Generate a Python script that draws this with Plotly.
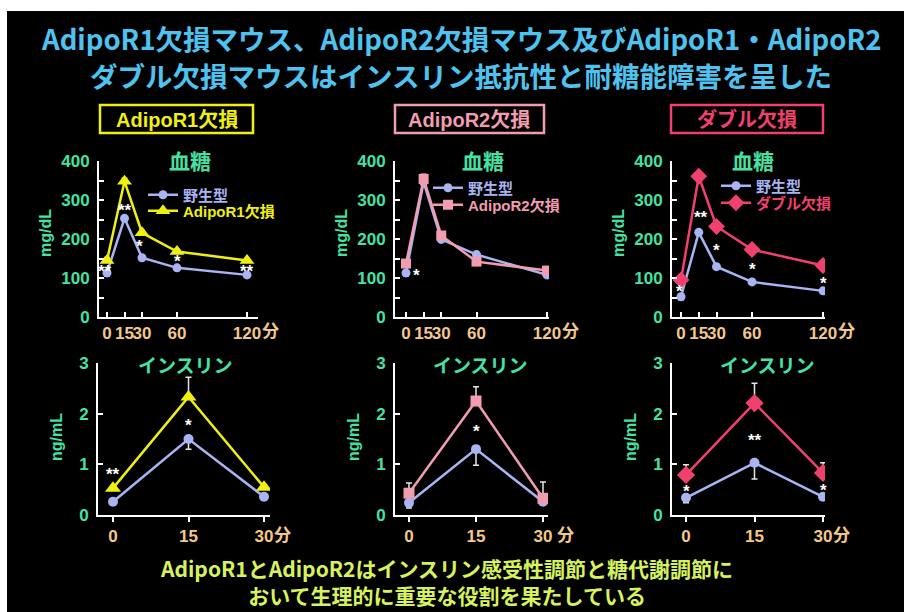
import plotly.graph_objects as go

W, H = 904, 612

# ---------------- data ----------------
times_glucose = [0, 15, 30, 60, 120]
times_insulin = [0, 15, 30]
glucose_tick_text = ["0", "15", "30", "60", "120"]
insulin_tick_text = ["0", "15", "30"]

# blood glucose (mg/dL)
glu_wt_r1 = [113, 253, 152, 126, 108]
glu_ko_r1 = [145, 348, 216, 168, 145]
glu_wt_r2 = [113, 346, 199, 160, 108]
glu_ko_r2 = [137, 354, 209, 142, 119]
glu_wt_dko = [52, 217, 129, 90, 67]
glu_ko_dko = [95, 361, 232, 173, 132]

# glucose error bars (KO upward, WT downward)
glu_err_wt_r1 = [8, 6, 6, 5, 4]
glu_err_ko_r1 = [8, 8, 6, 6, 5]
glu_err_wt_r2 = [8, 6, 5, 5, 5]
glu_err_ko_r2 = [6, 12, 6, 5, 8]
glu_err_wt_dko = [8, 6, 5, 4, 4]
glu_err_ko_dko = [12, 6, 6, 10, 10]

# insulin (ng/mL)
ins_wt_r1 = [0.26, 1.50, 0.36]
ins_ko_r1 = [0.53, 2.33, 0.55]
ins_wt_r2 = [0.24, 1.30, 0.26]
ins_ko_r2 = [0.43, 2.25, 0.33]
ins_wt_dko = [0.34, 1.03, 0.36]
ins_ko_dko = [0.79, 2.21, 0.83]

ins_err_wt_r1 = [0.03, 0.20, 0.03]
ins_err_ko_r1 = [0.03, 0.39, 0.03]
ins_err_wt_r2 = [0.10, 0.32, 0.05]
ins_err_ko_r2 = [0.20, 0.28, 0.32]
ins_err_wt_dko = [0.10, 0.32, 0.05]
ins_err_ko_dko = [0.20, 0.39, 0.20]

# significance marks: (panel index, x value, y value, text)
sig_marks = [
    (1, -2, 128, "**"), (1, 15, 284, "**"), (1, 28, 191, "*"), (1, 60, 152, "*"), (1, 120, 126, "**"),
    (2, 9, 116, "*"),
    (3, -1, 75, "*"), (3, 17, 266, "**"), (3, 30, 181, "*"), (3, 60, 132, "*"), (3, 120, 95, "*"),
    (4, 0, 0.87, "**"), (4, 15, 1.85, "*"),
    (5, 15, 1.73, "*"),
    (6, 0, 0.55, "*"), (6, 15, 1.54, "**"), (6, 30, 0.57, "*"),
]

wt_name = "野生型"
ko_names = ["AdipoR1欠損", "AdipoR2欠損", "ダブル欠損"]
box_labels = ["AdipoR1欠損", "AdipoR2欠損", "ダブル欠損"]
title_lines = ["AdipoR1欠損マウス、AdipoR2欠損マウス及びAdipoR1・AdipoR2",
               "ダブル欠損マウスはインスリン抵抗性と耐糖能障害を呈した"]
footer_lines = ["AdipoR1とAdipoR2はインスリン感受性調節と糖代謝調節に",
                "おいて生理的に重要な役割を果たしている"]

# ---------------- style ----------------
FONT = "Liberation Sans, Noto Sans CJK JP, sans-serif"
CJK = "Noto Sans CJK JP, Liberation Sans, sans-serif"
C_WT = "#a9b4f2"
C_KO = ["#f0f010", "#f29cb0", "#f0406e"]
SYM_KO = ["triangle-up", "square", "diamond"]
SIZE_KO = [13, 10, 13]
C_GREEN = "#45e2a4"
C_TAN = "#f2c88e"
C_TITLE = "#4fc3ef"
C_FOOT = "#d7f25c"
C_ERR = "#e6e6e6"


def px_x(p):
    return p / W


def px_y(p):
    return 1 - p / H


def axis_range(d0, d1, p_a, v_a, p_b, v_b):
    k = (v_b - v_a) / (p_b - p_a)
    return [v_a + (d0 - p_a) * k, v_a + (d1 - p_a) * k]


# panel geometry in pixels: x-domain, (px,value) pairs, y-domain, shift of the "分" unit
panels = [
    dict(xd=(99, 258), a=(107, 0), b=(247, 120), yd=(161, 317), yr=[0, 400], fen=23),
    dict(xd=(395, 549), a=(406, 0), b=(547, 120), yd=(161, 317), yr=[0, 400], fen=23),
    dict(xd=(672, 825), a=(681, 0), b=(823, 120), yd=(161, 317), yr=[0, 400], fen=23),
    dict(xd=(98, 270), a=(113, 0), b=(264, 30), yd=(363, 515), yr=[0, 3], fen=18),
    dict(xd=(395, 548), a=(409, 0), b=(543, 30), yd=(363, 515), yr=[0, 3], fen=22),
    dict(xd=(672, 825), a=(686, 0), b=(823, 30), yd=(363, 515), yr=[0, 3], fen=18),
]

# legend placement (left px, centre y px) for WT and KO entries of each panel
legend_wt_pos = [(143, 195), (428, 188), (716, 186)]
legend_ko_pos = [(143, 211), (428, 205), (716, 203)]

fig = go.Figure()

glu_wt = [glu_wt_r1, glu_wt_r2, glu_wt_dko]
glu_ko = [glu_ko_r1, glu_ko_r2, glu_ko_dko]
glu_ewt = [glu_err_wt_r1, glu_err_wt_r2, glu_err_wt_dko]
glu_eko = [glu_err_ko_r1, glu_err_ko_r2, glu_err_ko_dko]
ins_wt = [ins_wt_r1, ins_wt_r2, ins_wt_dko]
ins_ko = [ins_ko_r1, ins_ko_r2, ins_ko_dko]
ins_ewt = [ins_err_wt_r1, ins_err_wt_r2, ins_err_wt_dko]
ins_eko = [ins_err_ko_r1, ins_err_ko_r2, ins_err_ko_dko]


def lid(k):
    return "legend" if k == 1 else f"legend{k}"


for i in range(3):
    # glucose panel i+1
    xa, ya = ("x", "y") if i == 0 else (f"x{i+1}", f"y{i+1}")
    fig.add_trace(go.Scatter(
        x=times_glucose, y=glu_wt[i], xaxis=xa, yaxis=ya, mode="lines+markers",
        name=f"<span style='color:{C_WT}'>{wt_name}</span>", legend=lid(2 * i + 1),
        line=dict(color=C_WT, width=2.5), marker=dict(symbol="circle", size=9, color=C_WT),
        error_y=dict(type="data", symmetric=False, array=[0] * 5, arrayminus=glu_ewt[i],
                     color=C_ERR, thickness=1.3, width=3),
    ))
    fig.add_trace(go.Scatter(
        x=times_glucose, y=glu_ko[i], xaxis=xa, yaxis=ya, mode="lines+markers",
        name=f"<span style='color:{C_KO[i]}'>{ko_names[i]}</span>", legend=lid(2 * i + 2),
        line=dict(color=C_KO[i], width=2.5), marker=dict(symbol=SYM_KO[i], size=SIZE_KO[i], color=C_KO[i]),
        error_y=dict(type="data", symmetric=False, array=glu_eko[i], arrayminus=[0] * 5,
                     color=C_ERR, thickness=1.3, width=3),
    ))
    # insulin panel i+4
    xa, ya = f"x{i+4}", f"y{i+4}"
    fig.add_trace(go.Scatter(
        x=times_insulin, y=ins_wt[i], xaxis=xa, yaxis=ya, mode="lines+markers", showlegend=False,
        line=dict(color=C_WT, width=2.5), marker=dict(symbol="circle", size=10, color=C_WT),
        error_y=dict(type="data", symmetric=False, array=[0] * 3, arrayminus=ins_ewt[i],
                     color=C_ERR, thickness=1.5, width=3),
    ))
    fig.add_trace(go.Scatter(
        x=times_insulin, y=ins_ko[i], xaxis=xa, yaxis=ya, mode="lines+markers", showlegend=False,
        line=dict(color=C_KO[i], width=2.5), marker=dict(symbol=SYM_KO[i], size=SIZE_KO[i] + 1, color=C_KO[i]),
        error_y=dict(type="data", symmetric=False, array=ins_eko[i], arrayminus=[0] * 3,
                     color=C_ERR, thickness=1.5, width=3),
    ))

layout = dict(
    width=W, height=H, margin=dict(l=0, r=0, t=0, b=0, autoexpand=False),
    paper_bgcolor="white", plot_bgcolor="rgba(0,0,0,0)",
    font=dict(family=FONT, color="white", weight="bold"),
    shapes=[dict(type="rect", xref="paper", yref="paper", x0=px_x(7), x1=1, y0=0, y1=px_y(11),
                 fillcolor="black", line=dict(width=0), layer="below")],
    annotations=[],
)

for n, p in enumerate(panels, start=1):
    top = n <= 3
    xr = axis_range(p["xd"][0], p["xd"][1], p["a"][0], p["a"][1], p["b"][0], p["b"][1])
    xkey = "xaxis" if n == 1 else f"xaxis{n}"
    ykey = "yaxis" if n == 1 else f"yaxis{n}"
    yname = "y" if n == 1 else f"y{n}"
    xname = "x" if n == 1 else f"x{n}"
    layout[xkey] = dict(
        domain=[px_x(p["xd"][0]), px_x(p["xd"][1])], range=xr, anchor=yname,
        showline=True, linecolor="white", linewidth=2, showgrid=False, zeroline=False,
        tickmode="array",
        tickvals=times_glucose if top else times_insulin,
        ticktext=glucose_tick_text if top else insulin_tick_text,
        ticks="inside" if top else "outside", ticklen=5, tickwidth=1.5, tickcolor="white",
        tickangle=0, tickfont=dict(family=FONT, size=17, color=C_TAN, weight="bold"),
        fixedrange=True, automargin=False,
    )
    if top:
        yvals = [0, 50, 100, 150, 200, 250, 300, 350, 400]
        ytext = ["0", "", "100", "", "200", "", "300", "", "400"]
    else:
        yvals = [0, 1, 2, 3]
        ytext = ["0", "1", "2", "3"]
    layout[ykey] = dict(
        domain=[px_y(p["yd"][1]), px_y(p["yd"][0])], range=p["yr"], anchor=xname,
        showline=True, linecolor="white", linewidth=2, showgrid=False, zeroline=False,
        tickmode="array", tickvals=yvals, ticktext=ytext,
        ticks="inside", ticklen=5, tickwidth=1.5, tickcolor="white",
        ticklabelstandoff=4,
        tickfont=dict(family=FONT, size=17, color=C_GREEN, weight="bold"),
        fixedrange=True, automargin=False,
    )
    # "分" after last x tick label
    layout["annotations"].append(dict(
        xref=xname, yref="paper", x=p["b"][1], xshift=p["fen"], y=px_y(329 if top else 533),
        text="分", showarrow=False, font=dict(family=CJK, size=17, color=C_TAN, weight="bold"),
        xanchor="center", yanchor="middle"))
    # y-axis title
    layout["annotations"].append(dict(
        xref="paper", yref="paper", x=px_x(p["xd"][0] - (54 if top else 42)),
        y=px_y((p["yd"][0] + p["yd"][1]) / 2 + (-6 if top else -2)),
        text="mg/dL" if top else "ng/mL", textangle=-90, showarrow=False,
        font=dict(family=FONT, size=16, color=C_GREEN, weight="bold"),
        xanchor="center", yanchor="middle"))

# panel titles
glu_title_x = [190, 483, 753]
ins_title_x = [185, 480, 767]
for i in range(3):
    layout["annotations"].append(dict(
        xref="paper", yref="paper", x=px_x(glu_title_x[i]), y=px_y(160), text="血糖",
        showarrow=False, font=dict(family=CJK, size=21, color=C_GREEN, weight="bold"),
        xanchor="center", yanchor="middle"))
    layout["annotations"].append(dict(
        xref="paper", yref="paper", x=px_x(ins_title_x[i]), y=px_y(364), text="インスリン",
        showarrow=False, font=dict(family=CJK, size=19, color=C_GREEN, weight="bold"),
        xanchor="center", yanchor="middle"))

# boxed genotype labels
box_px = [(100, 253), (395, 544), (671, 823)]
for i in range(3):
    x0, x1 = box_px[i]
    layout["shapes"].append(dict(
        type="rect", xref="paper", yref="paper", x0=px_x(x0), x1=px_x(x1), y0=px_y(133), y1=px_y(105),
        line=dict(color=C_KO[i], width=2.5), fillcolor="rgba(0,0,0,0)"))
    layout["annotations"].append(dict(
        xref="paper", yref="paper", x=px_x((x0 + x1) / 2), y=px_y(119.5), text=box_labels[i],
        showarrow=False, font=dict(family=FONT, size=20, color=C_KO[i], weight="bold"),
        xanchor="center", yanchor="middle"))

# significance marks
for (pn, xv, yv, txt) in sig_marks:
    layout["annotations"].append(dict(
        xref="x" if pn == 1 else f"x{pn}", yref="y" if pn == 1 else f"y{pn}", x=xv, y=yv,
        text=txt, showarrow=False, yshift=-4,
        font=dict(family=FONT, size=17, color="white", weight="bold"),
        xanchor="center", yanchor="middle"))

# main title (two separate lines)
for line, yp in zip(title_lines, [38, 75]):
    layout["annotations"].append(dict(
        xref="paper", yref="paper", x=px_x(461), y=px_y(yp), text=line, showarrow=False,
        font=dict(family=CJK, size=27.5, color=C_TITLE, weight="bold"),
        xanchor="center", yanchor="middle"))

# footer (two lines in one text block)
layout["annotations"].append(dict(
    xref="paper", yref="paper", x=px_x(446), y=px_y(581.5), text="<br>".join(footer_lines),
    showarrow=False, align="center",
    font=dict(family=CJK, size=21, color=C_FOOT, weight="bold"),
    xanchor="center", yanchor="middle"))

# legends: one single-entry legend per series for exact placement
for i in range(3):
    for k, pos in ((2 * i + 1, legend_wt_pos[i]), (2 * i + 2, legend_ko_pos[i])):
        layout[lid(k)] = dict(
            x=px_x(pos[0]), y=px_y(pos[1]), xanchor="left", yanchor="middle",
            bgcolor="rgba(0,0,0,0)", borderwidth=0, tracegroupgap=0, itemwidth=30,
            font=dict(family=FONT, size=15, color=C_WT, weight="bold"),
        )

fig.update_layout(**layout)
fig.write_html("out.html", post_script="document.body.style.margin='0px';",
               config={"displayModeBar": False})
